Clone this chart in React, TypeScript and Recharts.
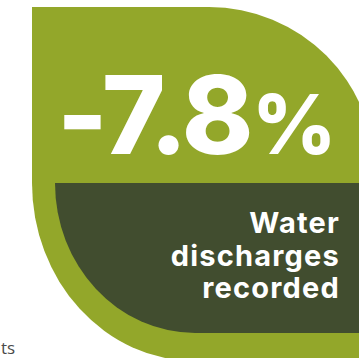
import { ComposedChart, Customized, XAxis, YAxis } from 'recharts'

// headline metric
const metricValues = [-7.8]
const metricUnits = ['%']
const labelLines = ['Water', 'discharges', 'recorded']
const footerText = ['ts']

const rows = metricValues.map((v, i) => ({ name: labelLines.join(' '), value: v, unit: metricUnits[i] }))

const LIGHT = '#93a72a'
const DARK = '#414d2f'

function Leaf() {
  const value = metricValues[0]
  const txt = value < 0 ? `-${Math.abs(value)}` : `${value}`
  return (
    <g>
      <path d="M32,7 H209 A166,166 0 0 1 375,173 V361 H195 A163,178 0 0 1 32,183 Z" fill={LIGHT} />
      <path d="M55,183 H375 V333 H195 A140,150 0 0 1 55,183 Z" fill={DARK} />
      <text x={57} y={154} fill="#fff" fontFamily="Inter" fontWeight={800} letterSpacing={-2.5}>
        <tspan fontSize={108}>{txt}</tspan>
        <tspan fontSize={82} dx={1} letterSpacing={0}>{metricUnits[0]}</tspan>
      </text>
      {labelLines.map((l, i) => (
        <text key={l} x={340} y={233 + i * 32.5} textAnchor="end" fill="#fff" fontFamily="Inter" fontWeight={700} fontSize={29} letterSpacing={1.2}>
          {l}
        </text>
      ))}
      <text x={1} y={354} fill="#4a4a4a" fontFamily="Open Sans" fontSize={17}>
        {footerText[0]}
      </text>
    </g>
  )
}

export default function App() {
  return (
    <div style={{ position: 'fixed', left: 0, top: 0, background: '#fff' }}>
      <ComposedChart width={359} height={358} data={rows} margin={{ top: 0, right: 0, bottom: 0, left: 0 }}>
        <XAxis dataKey="name" hide />
        <YAxis hide />
        <Customized component={Leaf} />
      </ComposedChart>
    </div>
  )
}
